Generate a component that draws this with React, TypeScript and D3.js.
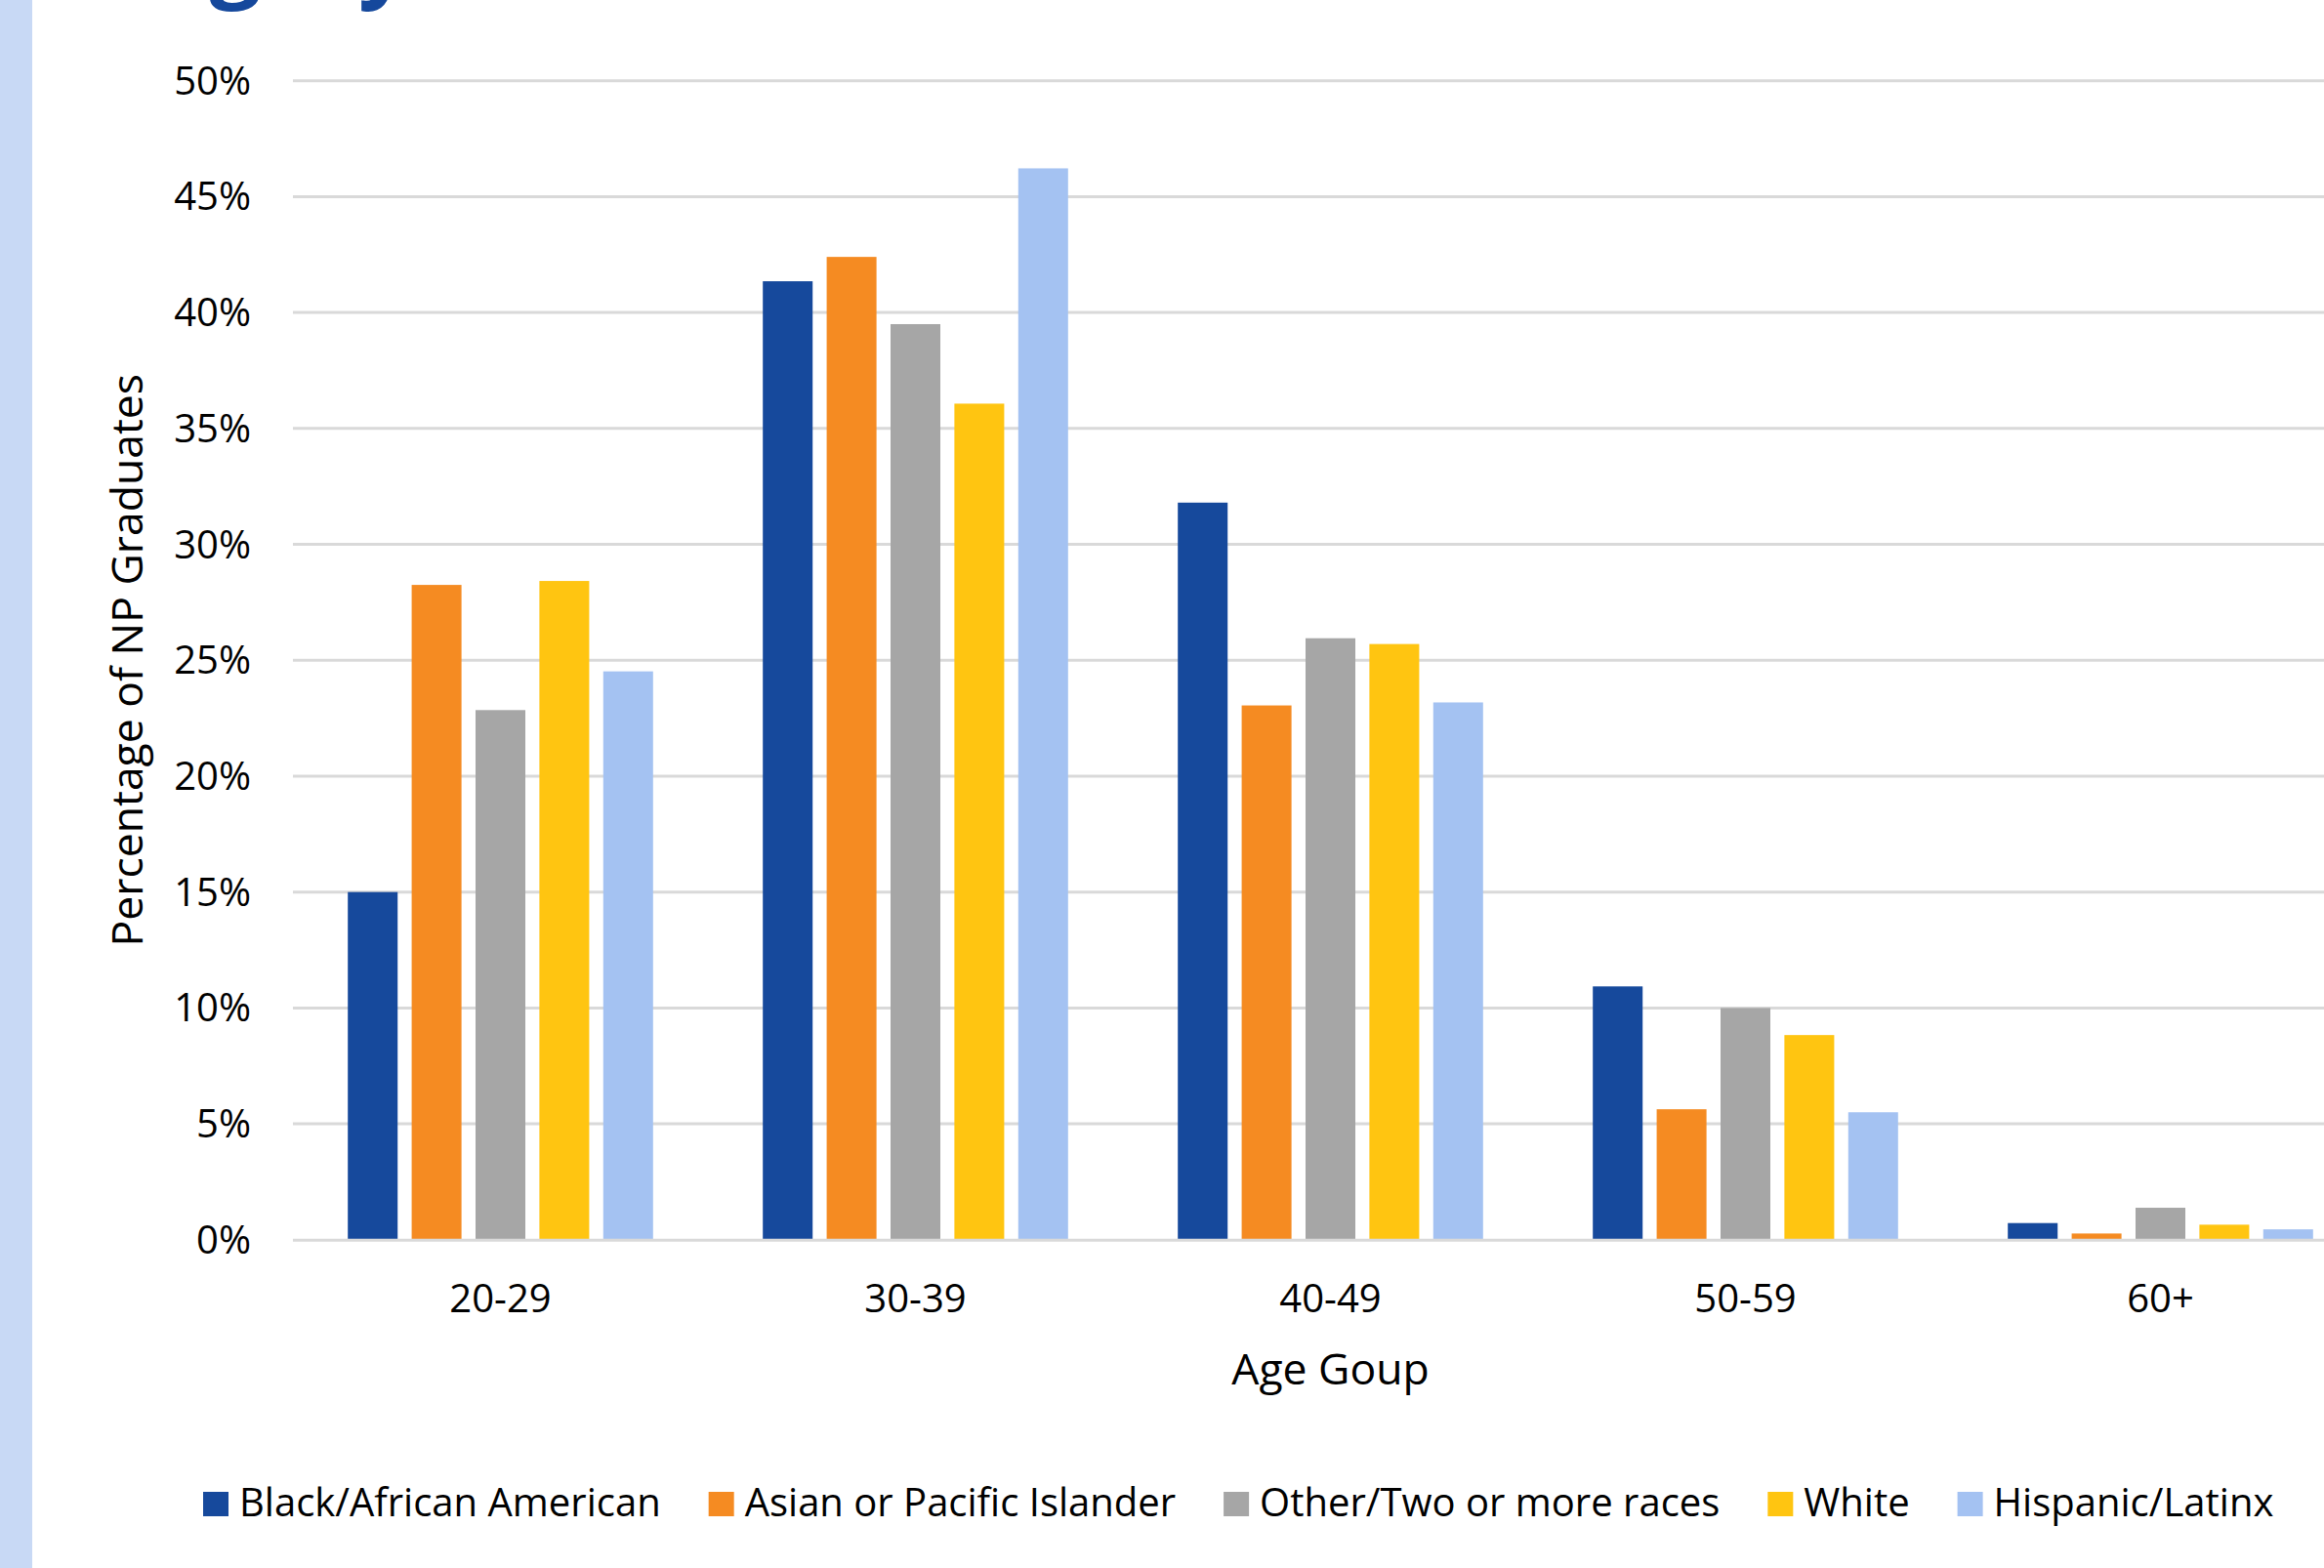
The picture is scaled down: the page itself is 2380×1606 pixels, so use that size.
import React, { useEffect, useRef } from "react";
import * as d3 from "d3";

const categories = ["20-29", "30-39", "40-49", "50-59", "60+"];
const seriesNames = [
  "Black/African American",
  "Asian or Pacific Islander",
  "Other/Two or more races",
  "White",
  "Hispanic/Latinx",
];
const blackValues = [15.0, 41.35, 31.8, 10.93, 0.72];
const asianValues = [28.25, 42.4, 23.05, 5.63, 0.27];
const otherValues = [22.85, 39.5, 25.95, 10.0, 1.38];
const whiteValues = [28.42, 36.07, 25.7, 8.83, 0.65];
const hispanicValues = [24.52, 46.22, 23.18, 5.5, 0.45];
const seriesColors = ["#16499C", "#F58B22", "#A6A6A6", "#FFC511", "#A4C2F2"];
const yTicks = [0, 5, 10, 15, 20, 25, 30, 35, 40, 45, 50];
const yTitle = "Percentage of NP Graduates";
const xTitle = "Age Goup";
const titleFragment = "Category";

const W = 2380;
const H = 1606;
const FONT = "'Open Sans', 'Noto Sans', sans-serif";

export default function App() {
  const ref = useRef<SVGSVGElement | null>(null);

  useEffect(() => {
    const svg = d3.select(ref.current);
    svg.selectAll("*").remove();

    const allValues = [blackValues, asianValues, otherValues, whiteValues, hispanicValues];
    const rows = categories.map((c, i) => ({
      cat: c,
      vals: seriesNames.map((s, j) => ({ s, v: allValues[j][i], color: seriesColors[j] })),
    }));

    const plotLeft = 300;
    const step = 425;
    const x0 = d3
      .scaleBand<string>()
      .domain(categories)
      .range([plotLeft, plotLeft + step * categories.length])
      .padding(0);
    const groupW = 312.6;
    const off = (step - groupW) / 2;
    const x1 = d3.scaleBand<string>().domain(seriesNames).range([off, off + groupW]).paddingInner(0.22).paddingOuter(0);
    const y = d3.scaleLinear().domain([0, 50]).range([1269.8, 82.7]);

    svg.append("rect").attr("x", 0).attr("y", 0).attr("width", W).attr("height", H).attr("fill", "#ffffff");
    svg.append("rect").attr("x", 0).attr("y", 0).attr("width", 33).attr("height", H).attr("fill", "#C8D9F5");

    // title fragment (cropped at top)
    svg
      .append("text")
      .attr("x", 420)
      .attr("y", -10)
      .attr("text-anchor", "end")
      .attr("font-family", FONT)
      .attr("font-weight", 700)
      .attr("font-size", 93)
      .attr("fill", "#15489C")
      .text(titleFragment);

    // gridlines
    svg
      .append("g")
      .selectAll("line")
      .data(yTicks.filter((t) => t > 0))
      .join("line")
      .attr("x1", plotLeft)
      .attr("x2", plotLeft + step * categories.length)
      .attr("y1", (d) => y(d))
      .attr("y2", (d) => y(d))
      .attr("stroke", "#D9D9D9")
      .attr("stroke-width", 3);

    // y tick labels
    svg
      .append("g")
      .selectAll("text")
      .data(yTicks)
      .join("text")
      .attr("x", 257)
      .attr("y", (d) => y(d) + 14)
      .attr("text-anchor", "end")
      .attr("font-family", FONT)
      .attr("font-size", 40)
      .attr("fill", "#000")
      .text((d) => `${d}%`);

    // bars
    const groups = svg
      .append("g")
      .selectAll("g")
      .data(rows)
      .join("g")
      .attr("transform", (d) => `translate(${x0(d.cat)},0)`);
    groups
      .selectAll("rect")
      .data((d) => d.vals)
      .join("rect")
      .attr("x", (d) => x1(d.s) as number)
      .attr("width", x1.bandwidth())
      .attr("y", (d) => y(d.v))
      .attr("height", (d) => y(0) - y(d.v))
      .attr("fill", (d) => d.color);

    // baseline
    svg
      .append("line")
      .attr("x1", plotLeft)
      .attr("x2", plotLeft + step * categories.length)
      .attr("y1", y(0) + 0.5)
      .attr("y2", y(0) + 0.5)
      .attr("stroke", "#D9D9D9")
      .attr("stroke-width", 3);

    // x tick labels
    svg
      .append("g")
      .selectAll("text")
      .data(categories)
      .join("text")
      .attr("x", (d) => (x0(d) as number) + step / 2)
      .attr("y", 1344)
      .attr("text-anchor", "middle")
      .attr("font-family", FONT)
      .attr("font-size", 40)
      .attr("fill", "#000")
      .text((d) => d);

    // axis titles
    svg
      .append("text")
      .attr("x", plotLeft + (step * categories.length) / 2)
      .attr("y", 1418)
      .attr("text-anchor", "middle")
      .attr("font-family", FONT)
      .attr("font-size", 44.5)
      .attr("fill", "#000")
      .text(xTitle);

    svg
      .append("text")
      .attr("transform", `translate(146,${(y(0) + y(50)) / 2}) rotate(-90)`)
      .attr("text-anchor", "middle")
      .attr("font-family", FONT)
      .attr("font-size", 44.5)
      .attr("fill", "#000")
      .text(yTitle);

    // legend
    const legend = svg.append("g");
    let lx = 208;
    seriesNames.forEach((name, i) => {
      legend
        .append("rect")
        .attr("x", lx)
        .attr("y", 1528)
        .attr("width", 26)
        .attr("height", 25)
        .attr("fill", seriesColors[i]);
      const t = legend
        .append("text")
        .attr("x", lx + 37)
        .attr("y", 1553)
        .attr("font-family", FONT)
        .attr("font-size", 40)
        .attr("fill", "#000")
        .text(name);
      const w = (t.node() as SVGTextElement).getComputedTextLength();
      lx = lx + 37 + w + 49;
    });
  }, []);

  return (
    <svg
      ref={ref}
      width={W}
      height={H}
      style={{ position: "absolute", left: 0, top: 0, display: "block" }}
    />
  );
}
